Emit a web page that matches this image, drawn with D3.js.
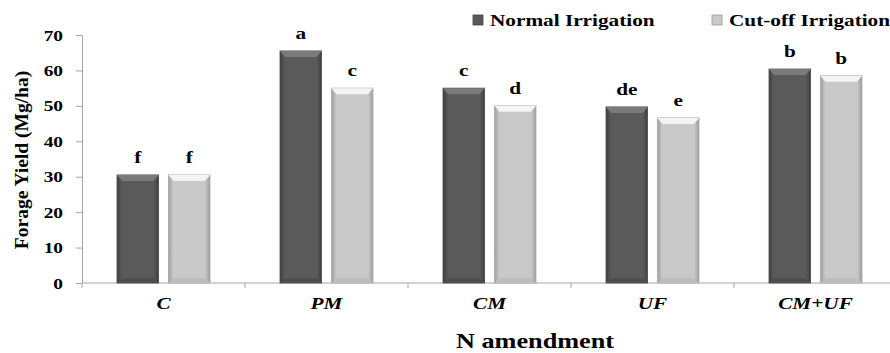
<!DOCTYPE html>
<html lang="en">
<head>
<meta charset="UTF-8">
<title>Forage Yield by N amendment</title>
<script src="https://d3js.org/d3.v7.min.js"></script>
<style>
    body { margin: 0; background: #fff; }
    .axis path, .axis line { stroke: #a6a6a6; }
</style>
</head>
<body>
<div id="chart"></div>
<script>
// data
const categories = ["C", "PM", "CM", "UF", "CM+UF"];
const normal = [30.5, 65.5, 55.0, 49.7, 60.4];
const cutoff = [30.5, 55.0, 50.0, 46.6, 58.5];
const normalLetters = ["f", "a", "c", "de", "b"];
const cutoffLetters = ["f", "c", "d", "e", "b"];
const seriesNames = ["Normal Irrigation", "Cut-off Irrigation"];
const yTicks = [0, 10, 20, 30, 40, 50, 60, 70];

const W = 890, H = 353;
const plot = { left: 82, right: 897, top: 35, bottom: 283 };
const FONT = "'Liberation Serif', 'Times New Roman', Times, 'DejaVu Serif', serif";
const SX = 1.25; // the reference is stretched sideways

const svg = d3.select("#chart").append("svg")
    .attr("width", W).attr("height", H)
    .attr("font-family", FONT).attr("font-weight", "bold");

// text helper: places a stretched label at (x, y)
function label(parent, x, y, str, size, anchor) {
    return parent.append("text")
        .attr("transform", `translate(${x},${y}) scale(${SX},1)`)
        .attr("text-anchor", anchor || "middle")
        .attr("font-size", size)
        .attr("font-family", FONT).attr("font-weight", "bold")
        .attr("fill", "#000")
        .text(str);
}

const defs = svg.append("defs");
function grad(id, edge, mid) {
    const g = defs.append("linearGradient").attr("id", id)
        .attr("x1", "0%").attr("x2", "100%");
    g.append("stop").attr("offset", "0%").attr("stop-color", edge);
    g.append("stop").attr("offset", "12%").attr("stop-color", mid);
    g.append("stop").attr("offset", "88%").attr("stop-color", mid);
    g.append("stop").attr("offset", "100%").attr("stop-color", edge);
}
grad("gDark", "#3f3f3f", "#5a5a5a");
grad("gLight", "#9e9e9e", "#c9c9c9");

const x = d3.scaleBand().domain(categories).range([plot.left, plot.right]);
const sub = d3.scaleBand().domain([0, 1]).range([35, 128]).paddingInner(0.19);
const y = d3.scaleLinear().domain([0, 70]).range([plot.bottom, plot.top]);

// y axis
const yAxis = svg.append("g").attr("class", "axis")
    .attr("transform", `translate(${plot.left},0)`)
    .call(d3.axisLeft(y).tickValues(yTicks).tickSize(6).tickSizeOuter(0));
yAxis.selectAll("text").remove();
yTicks.forEach(t => label(yAxis, -19, y(t) + 5.5, t, 15.5, "end"));

// x axis with ticks between categories
const xAxis = svg.append("g").attr("class", "axis")
    .attr("transform", `translate(0,${plot.bottom})`);
xAxis.append("line").attr("x1", plot.left).attr("x2", plot.right)
    .attr("y1", 0).attr("y2", 0);
xAxis.selectAll(".tk").data(categories).join("line")
    .attr("x1", d => x(d)).attr("x2", d => x(d))
    .attr("y1", 0).attr("y2", 5);
categories.forEach(c => {
    label(xAxis, x(c) + x.bandwidth() / 2, 26, c, 17).attr("font-style", "italic");
});

// bars
const series = [
    { vals: normal, letters: normalLetters, fill: "url(#gDark)", top: "#7a7a7a", bottom: "#4e4e4e", color: "#595959" },
    { vals: cutoff, letters: cutoffLetters, fill: "url(#gLight)", top: "#f4f4f4", bottom: "#bdbdbd", color: "#c9c9c9" }
];

series.forEach((s, si) => {
    const g = svg.append("g");
    categories.forEach((c, i) => {
        const x0 = x(c) + sub(si), w = sub.bandwidth();
        const yt = y(s.vals[i]), yb = y(0);
        g.append("rect").attr("x", x0).attr("y", yt)
            .attr("width", w).attr("height", yb - yt)
            .attr("fill", s.fill)
            .attr("stroke", si === 0 ? "#4a4a4a" : "#a8a8a8").attr("stroke-width", 0.8);
        // top bevel
        g.append("path")
            .attr("d", `M${x0},${yt} L${x0 + w},${yt} L${x0 + w - 5},${yt + 6} L${x0 + 5},${yt + 6} Z`)
            .attr("fill", s.top);
        // bottom bevel
        g.append("path")
            .attr("d", `M${x0},${yb} L${x0 + w},${yb} L${x0 + w - 5},${yb - 5} L${x0 + 5},${yb - 5} Z`)
            .attr("fill", s.bottom);
        label(g, x0 + w / 2, yt - 12, s.letters[i], 17);
    });
});

// y title (rotated, so not stretched)
svg.append("text")
    .attr("transform", `translate(28,${(plot.top + plot.bottom) / 2 + 1}) rotate(-90)`)
    .attr("text-anchor", "middle").attr("font-size", 19.5)
    .attr("font-family", FONT).attr("font-weight", "bold")
    .text("Forage Yield (Mg/ha)");

// x title
label(svg, 535, 348, "N amendment", 21);

// legend
const legendX = [473, 712];
seriesNames.forEach((n, i) => {
    const lg = svg.append("g").attr("transform", `translate(${legendX[i]},20)`);
    lg.append("rect").attr("x", 0).attr("y", -5).attr("width", 10).attr("height", 10)
        .attr("fill", series[i].color)
        .attr("stroke", i === 0 ? "#444" : "#999").attr("stroke-width", 0.8);
    label(lg, 17, 6, n, 17, "start");
});
</script>
</body>
</html>
